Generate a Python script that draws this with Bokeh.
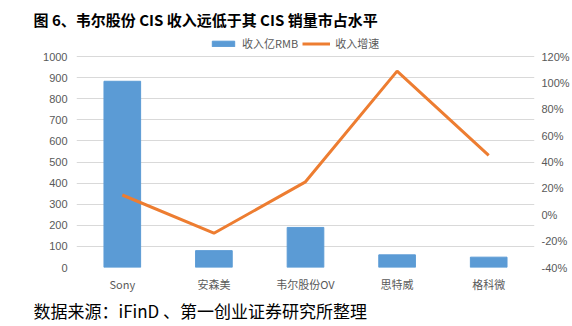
from bokeh.plotting import figure
from bokeh.models import (Range1d, LinearAxis, FixedTicker, PrintfTickFormatter,
                          FactorRange, Legend, LegendItem, Title, ColumnDataSource)
from bokeh.embed import file_html
from bokeh.resources import INLINE

categories = ["Sony", "安森美", "韦尔股份OV", "思特威", "格科微"]
revenue = [883, 80, 190, 60, 49]
growth = [15, -14, 25, 109, 45]
left_ticks = [0, 100, 200, 300, 400, 500, 600, 700, 800, 900, 1000]
right_ticks = [-40, -20, 0, 20, 40, 60, 80, 100, 120]

title_text = "图 6、韦尔股份 CIS 收入远低于其 CIS 销量市占水平"
source_text = "数据来源：iFinD 、第一创业证券研究所整理"

CJK = "Noto Sans CJK SC"

src = ColumnDataSource(dict(cat=categories, rev=revenue, gr=growth))

p = figure(width=572, height=326, x_range=FactorRange(*categories, range_padding=0),
           y_range=Range1d(0, 1100), output_backend="svg", toolbar_location=None,
           min_border_left=76, min_border_right=36, min_border_top=35,
           min_border_bottom=59, background_fill_color="white",
           border_fill_color="white", outline_line_color=None)
p.x_range.factor_padding = 0
p.extra_y_ranges = {"pct": Range1d(-40, 136)}

bars = p.vbar(x="cat", top="rev", width=0.4, source=src, color="#5B9BD5")
ln = p.line(x="cat", y="gr", source=src, y_range_name="pct",
            line_color="#ED7D31", line_width=3)

p.yaxis.ticker = FixedTicker(ticks=left_ticks)
p.ygrid.ticker = FixedTicker(ticks=left_ticks)
p.ygrid.grid_line_color = "#D9D9D9"
p.xgrid.grid_line_color = None

for ax in p.yaxis + p.xaxis:
    ax.axis_line_color = None
    ax.major_tick_line_color = None
    ax.minor_tick_line_color = None
    ax.major_tick_out = 0
    ax.major_tick_in = 0
    ax.minor_tick_out = 0
    ax.major_label_text_color = "#595959"
    ax.major_label_text_font_size = "11px"

p.yaxis.major_label_standoff = 9
p.yaxis.major_label_text_font = "Liberation Sans"
p.xaxis.major_label_text_font = CJK
p.xaxis.major_label_standoff = 8

rax = LinearAxis(y_range_name="pct", ticker=FixedTicker(ticks=right_ticks),
                 formatter=PrintfTickFormatter(format="%d%%"))
rax.axis_line_color = None
rax.major_tick_line_color = None
rax.minor_tick_line_color = None
rax.major_tick_out = 0
rax.major_tick_in = 0
rax.minor_tick_out = 0
rax.major_label_text_color = "#595959"
rax.major_label_text_font_size = "11px"
rax.major_label_text_font = "Liberation Sans"
rax.major_label_standoff = 7
p.add_layout(rax, "right")

legend = Legend(items=[LegendItem(label="收入亿RMB", renderers=[bars]),
                       LegendItem(label="收入增速", renderers=[ln])],
                location=(133, 216), orientation="horizontal",
                border_line_color=None, background_fill_alpha=0,
                label_text_font=CJK, label_text_font_size="11px",
                label_text_color="#595959", glyph_width=28, glyph_height=7,
                margin=0, padding=0, spacing=4, label_standoff=5)
p.add_layout(legend, "center")

t = Title(text=title_text, text_font=CJK, text_font_style="bold",
          text_font_size="15px", text_color="black", align="left", offset=-43,
          standoff=11)
p.add_layout(t, "above")

s = Title(text=source_text, text_font=CJK, text_font_style="normal",
          text_font_size="17px", text_color="black", align="left", offset=-43,
          standoff=2)
p.add_layout(s, "below")

open("out.html", "w").write(file_html(p, INLINE))
